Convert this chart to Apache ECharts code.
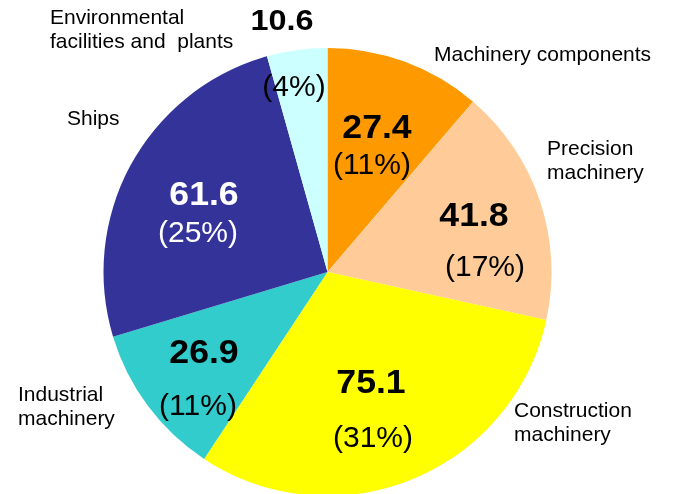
<!DOCTYPE html>
<html>
<head>
<meta charset="utf-8">
<script src="https://cdn.jsdelivr.net/npm/echarts@6/dist/echarts.min.js"></script>
<style>
  html, body { margin: 0; padding: 0; background: #fff; }
  #chart { width: 679px; height: 494px; }
</style>
</head>
<body>
<div id="chart"></div>
<script>
// clockwise from 12 o'clock
const categories = [
  "Machinery components",
  "Precision\nmachinery",
  "Construction\nmachinery",
  "Industrial\nmachinery",
  "Ships",
  "Environmental\nfacilities and  plants",
];
const values = [27.4, 41.8, 75.1, 26.9, 61.6, 10.6];
const colors = ["#FF9900", "#FFCC99", "#FFFF00", "#33CCCC", "#333399", "#CCFFFF"];
const labelColors = ["#000", "#000", "#000", "#000", "#fff", "#000"];

// label placement (pixels)
const nameLayout = [[434, 55], [547, 161], [514, 423], [18, 407], [67, 119], [50, 30]];
const valueLayout = [[377, 129], [474, 217], [371, 384], [204, 354], [204, 196], [282, 22]];
const pctLayout = [[372, 166], [485, 268], [373, 439], [198, 407], [198, 234], [294, 88]];

const chart = echarts.init(document.getElementById("chart"));
const total = values.reduce((a, b) => a + b, 0);
const font = "'Liberation Sans', Arial, sans-serif";

const graphics = [];
categories.forEach((name, i) => {
  graphics.push({
    type: "text",
    x: nameLayout[i][0],
    y: nameLayout[i][1],
    z: 100,
    silent: true,
    style: {
      text: name,
      fill: "#000",
      font: "21px " + font,
      lineHeight: 24,
      align: "left",
      verticalAlign: "middle",
    },
  });
  graphics.push({
    type: "text",
    x: valueLayout[i][0],
    y: valueLayout[i][1],
    z: 100,
    scaleX: 1.08,
    silent: true,
    style: {
      text: values[i].toFixed(1),
      fill: labelColors[i],
      font: "bold " + (i === 5 ? 30 : 33) + "px " + font,
      align: "center",
      verticalAlign: "middle",
    },
  });
  graphics.push({
    type: "text",
    x: pctLayout[i][0],
    y: pctLayout[i][1],
    z: 100,
    silent: true,
    style: {
      text: "(" + Math.round((values[i] / total) * 100) + "%)",
      fill: labelColors[i],
      font: "30px " + font,
      align: "center",
      verticalAlign: "middle",
    },
  });
});

chart.setOption({
  animation: false,
  backgroundColor: "#fff",
  series: [
    {
      type: "pie",
      center: [327.5, 272],
      radius: 224,
      startAngle: 90,
      clockwise: true,
      silent: true,
      z: 1,
      label: { show: false },
      labelLine: { show: false },
      itemStyle: { borderWidth: 0 },
      data: values.map((v, i) => ({
        name: categories[i],
        value: v,
        itemStyle: { color: colors[i] },
      })),
    },
  ],
  graphic: graphics,
});
</script>
</body>
</html>
